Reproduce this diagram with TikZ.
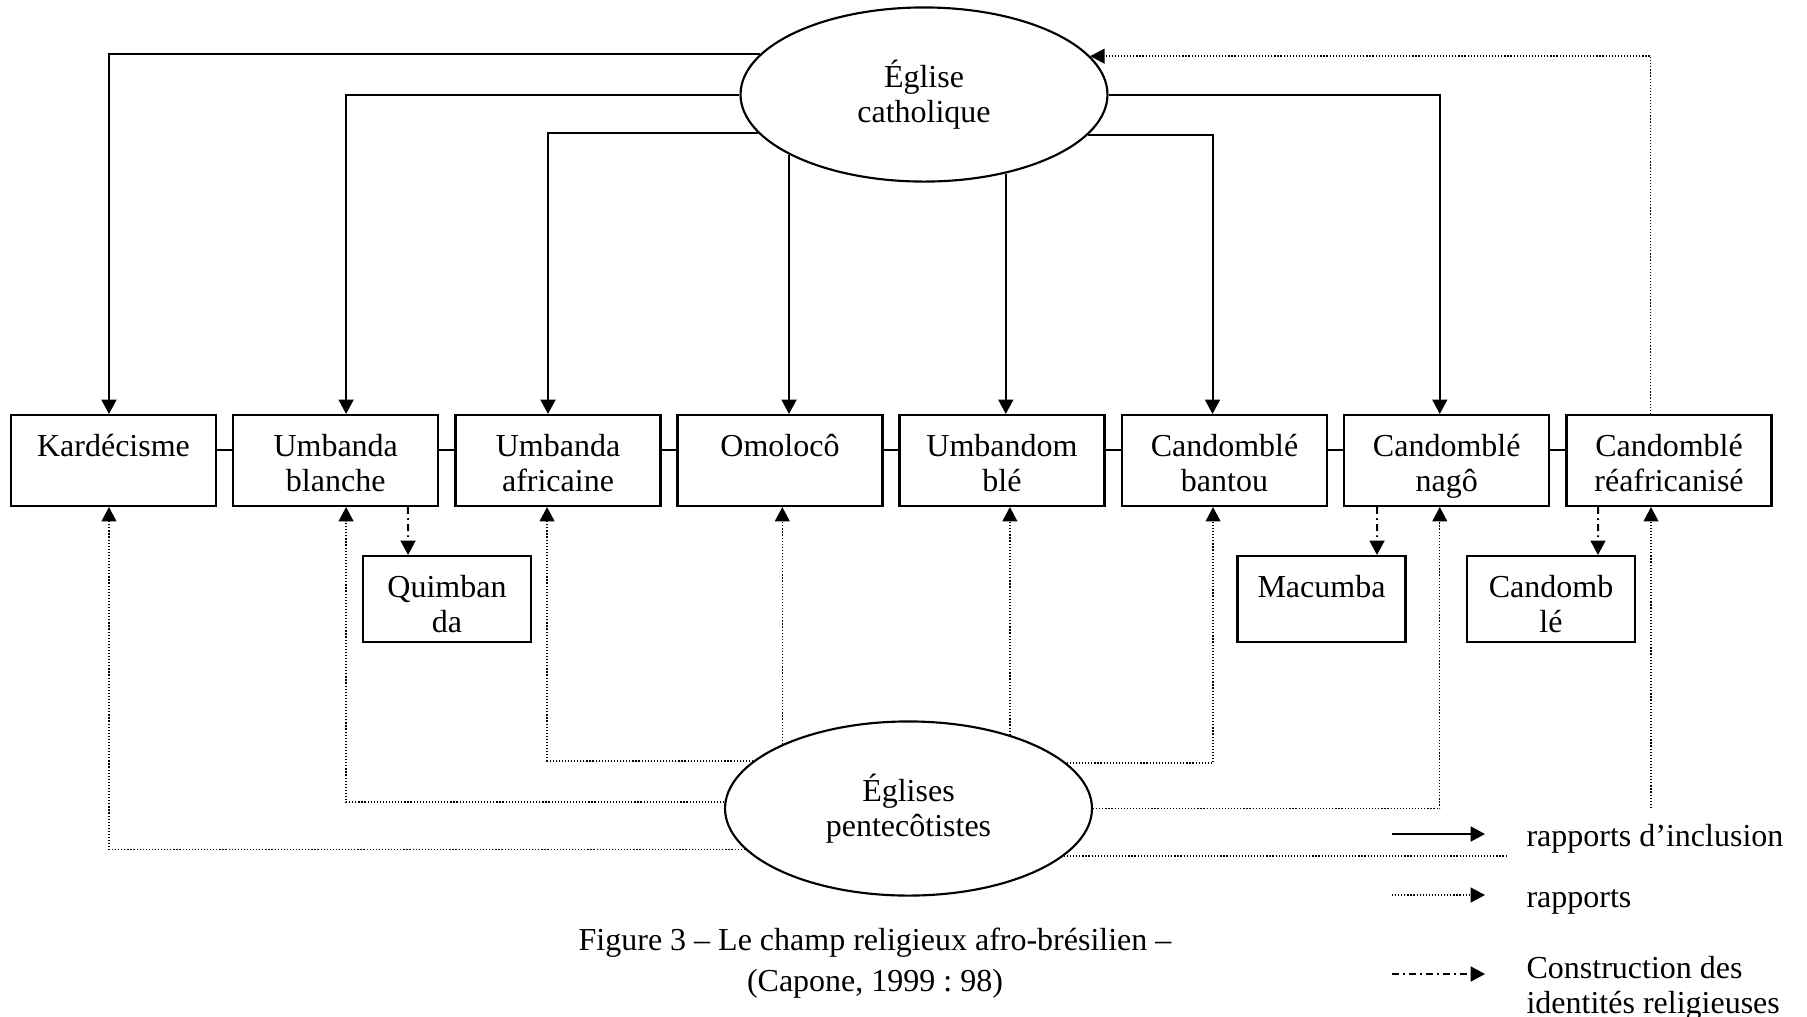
\documentclass[tikz,border=0pt]{standalone}
\usepackage{fontspec}
\setmainfont{Liberation Serif}
\usetikzlibrary{arrows.meta,shapes.geometric}
\frenchspacing

\newcommand{\boxtxt}[3]{\parbox[c][#2][t]{#1}{\centering\rule{0pt}{15.4pt}#3}}

\begin{document}
\begin{tikzpicture}[x=0.375pt,y=-0.375pt,>={Triangle[width=5.6pt,length=5.4pt]},
  font=\fontsize{12pt}{13.1pt}\selectfont,
  relig/.style={draw,line width=0.8pt,inner sep=0pt},
  church/.style={draw,ellipse,line width=0.8pt,fill=white,inner sep=0pt,
    minimum width=137.6pt,minimum height=65.3pt,align=center},
  incl/.style={line width=0.75pt,->},
  rapp/.style={line width=0.5pt,dash pattern=on 0.45pt off 0.7pt},
  constr/.style={line width=0.75pt,dash pattern=on 2.6pt off 1.6pt on 0.6pt off 1.6pt,->}]
  \useasboundingbox (0,0) rectangle (1807,1016);

  % les religions
  \foreach \nm/\x/\txt in {kard/113.5/Kardécisme, ublanche/335.7/{Umbanda\\blanche},
      uafric/558/{Umbanda\\africaine}, omolo/780/Omolocô, umbdom/1002/{Umbandom\\blé},
      cbantou/1224.5/{Candomblé\\bantou}, cnago/1446.7/{Candomblé\\nagô},
      creaf/1669/{Candomblé\\réafricanisé}}
    \node[relig] (\nm) at (\x,460.5) {\boxtxt{76.9pt}{34.1pt}{\txt}};
  \foreach \a/\b in {kard/ublanche,ublanche/uafric,uafric/omolo,omolo/umbdom,
      umbdom/cbantou,cbantou/cnago,cnago/creaf}
    \draw[line width=0.75pt] ([yshift=3.9pt]\a.east) -- ([yshift=3.9pt]\b.west);

  \node[relig] (quimb) at (447,599) {\boxtxt{63pt}{32.25pt}{Quimban\\da}};
  \node[relig] (macumba) at (1321.5,599) {\boxtxt{63pt}{32.25pt}{Macumba}};
  \node[relig] (candsub) at (1551,599) {\boxtxt{63pt}{32.25pt}{Candomb\\lé}};

  % les églises
  \node[church] (eglise) at (924,94.5) {Église\\catholique};
  \node[church] (pente) at (908.5,808.5) {Églises\\pentecôtistes};

  % rapports d'inclusion
  \draw[incl] (eglise.166.4) -| ([xshift=-1.7pt]kard.north);
  \draw[incl] (eglise.west) -| ([xshift=3.9pt]ublanche.north);
  \draw[incl] (eglise.193.2) -| ([xshift=-3.75pt]uafric.north);
  \draw[incl] (eglise.204) -- (eglise.204 |- omolo.north);
  \draw[incl] (eglise.316.4) -- (eglise.316.4 |- umbdom.north);
  \draw[incl] (eglise.346.8) -| ([xshift=-4.5pt]cbantou.north);
  \draw[incl] (eglise.east) -| ([xshift=-2.6pt]cnago.north);

  % rapports
  \draw[rapp,->] ([xshift=-6.9pt]creaf.north) |- (eglise.13.6);
  \draw[rapp,->] (pente.194.5) -| ([xshift=-1.7pt]kard.south);
  \draw[rapp,->] (pente.178.3) -| ([xshift=3.9pt]ublanche.south);
  \draw[rapp,->] (pente.163.3) -| ([xshift=-4.1pt]uafric.south);
  \draw[rapp,->] (pente.153) -- (pente.153 |- omolo.south);
  \draw[rapp,->] (pente.36.9) -- (pente.36.9 |- umbdom.south);
  \draw[rapp,->] (pente.16.7) -| ([xshift=-4.3pt]cbantou.south);
  \draw[rapp,->] (pente.0.8) -| ([xshift=-2.6pt]cnago.south);
  \coordinate (rend) at (1507,854);
  \draw[rapp] (pente.343.7) -- (pente.343.7 -| rend);
  \coordinate (rstart) at (1651,808);
  \draw[rapp,->] (rstart) -- (rstart |- creaf.south);

  % construction des identités
  \draw[constr] ([xshift=27.1pt]ublanche.south) -- ([xshift=-14.6pt]quimb.north);
  \draw[constr] ([xshift=-26.1pt]cnago.south) -- ([xshift=20.8pt]macumba.north);
  \draw[constr] ([xshift=-26.6pt]creaf.south) -- ([xshift=17.6pt]candsub.north);

  \node[align=center,anchor=north,inner sep=0pt,font=\fontsize{12pt}{15.4pt}\selectfont]
    (caption) at (875,927) {Figure 3 – Le champ religieux afro-brésilien –\\(Capone, 1999 : 98)};

  % légende
  \coordinate (lg1) at (1392,834);
  \draw[incl] (lg1) -- ++(93,0);
  \node[anchor=base west,inner sep=0pt] (lgt1) at (1526,846) {rapports d’inclusion};
  \coordinate (lg2) at (1392,895);
  \draw[rapp,->] (lg2) -- ++(93,0);
  \node[anchor=base west,inner sep=0pt] (lgt2) at (1526,907) {rapports};
  \coordinate (lg3) at (1392,974);
  \draw[constr] (lg3) -- ++(93,0);
  \node[anchor=north west,inner sep=0pt,align=left] (lgt3) at (1526,956)
    {Construction des\\identités religieuses};
\end{tikzpicture}
\end{document}
